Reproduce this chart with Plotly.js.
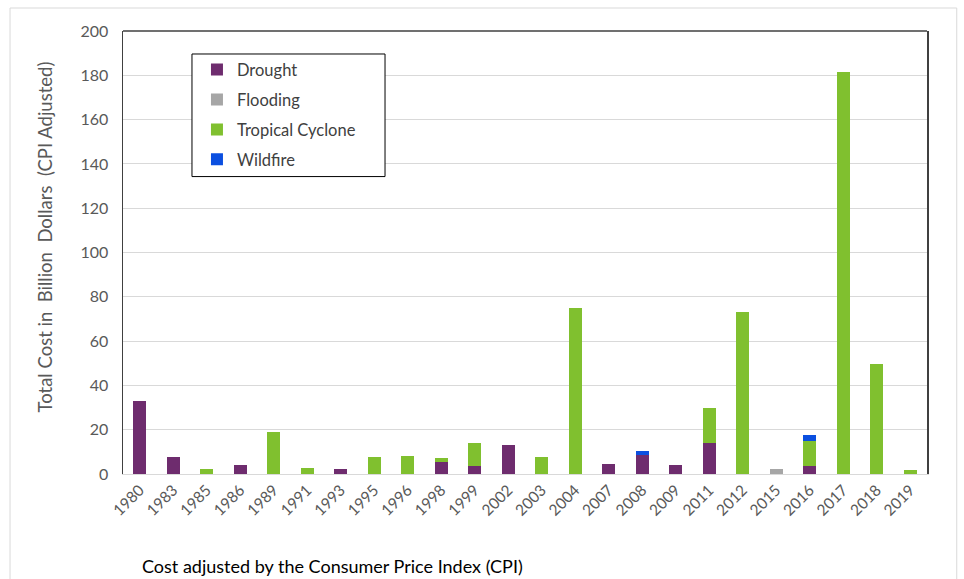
<!DOCTYPE html>
<html>
<head>
<meta charset="utf-8">
<script src="https://cdn.plot.ly/plotly-3.0.1.min.js"></script>
<style>html,body{margin:0;padding:0;background:#fff;}#chart{width:964px;height:579px;}</style>
</head>
<body>
<div id="chart"></div>
<script>
var years = ['1980','1983','1985','1986','1989','1991','1993','1995','1996','1998','1999','2002','2003','2004','2007','2008','2009','2011','2012','2015','2016','2017','2018','2019'];
var drought   = [33, 7.8, 0, 4.1, 0, 0, 2.3, 0, 0, 5.6, 3.8, 13, 0, 0, 4.4, 8.6, 4.1, 13.8, 0, 0, 3.7, 0, 0, 0];
var flooding  = [0, 0, 0, 0, 0, 0, 0, 0, 0, 0, 0, 0, 0, 0, 0, 0, 0, 0, 0, 2.3, 0, 0, 0, 0];
var cyclone   = [0, 0, 2.2, 0, 19, 2.9, 0, 7.9, 8.3, 1.5, 10.3, 0, 7.7, 75, 0, 0, 0, 15.9, 73.3, 0, 11.1, 181.5, 49.8, 1.6];
var wildfire  = [0, 0, 0, 0, 0, 0, 0, 0, 0, 0, 0, 0, 0, 0, 0, 1.6, 0, 0, 0, 0, 2.6, 0, 0, 0];
var yTicks = [0, 20, 40, 60, 80, 100, 120, 140, 160, 180, 200];

var FONT = 'Lato, "Open Sans", sans-serif';
function tr(name, vals, color, grp) {
  return {type: 'bar', name: name, x: years, y: vals, marker: {color: color, line: {width: 0}},
          legendgroup: grp, hoverinfo: 'x+y+name'};
}
var data = [
  tr('Drought', drought, '#6e2c6e', 'a'),
  tr('Flooding', flooding, '#a6a6a6', 'b'),
  tr('Tropical Cyclone', cyclone, '#80c02f', 'c'),
  tr('Wildfire', wildfire, '#0b4fe0', 'd')
];
var layout = {
  width: 964, height: 579,
  margin: {l: 123, r: 37, t: 31, b: 104.5},
  paper_bgcolor: '#fff', plot_bgcolor: '#fff',
  barmode: 'stack', bargap: 0.6,
  font: {family: FONT, color: '#595959'},
  showlegend: true,
  legend: {x: 0.092, y: 0.952, xanchor: 'left', yanchor: 'top', borderwidth: 0,
           bgcolor: 'rgba(0,0,0,0)', font: {size: 16.5, color: '#404040', family: FONT}, tracegroupgap: 5.5,
           traceorder: 'grouped'},
  xaxis: {type: 'category', tickangle: -45, tickfont: {size: 15.5, color: '#595959'},
          showline: true, linecolor: '#d9d9d9', linewidth: 1, showgrid: false, ticks: '', fixedrange: true},
  yaxis: {range: [0, 200], tickvals: yTicks, ticktext: yTicks.map(String), tickfont: {size: 16, color: '#595959'},
          showline: true, mirror: true, linecolor: '#404040', linewidth: 1.5,
          showgrid: true, gridcolor: '#d9d9d9', gridwidth: 1, zeroline: false,
          ticks: 'outside', ticklen: 10, tickcolor: 'rgba(0,0,0,0)',
          fixedrange: true},
  shapes: [
    {type: 'line', xref: 'paper', yref: 'paper', x0: 0, x1: 1, y0: 1, y1: 1, line: {color: '#404040', width: 1.5}},
    {type: 'rect', xref: 'paper', yref: 'paper', x0: -0.1405, x1: 1.037, y0: -0.4, y1: 1.0519,
     line: {color: '#d9d9d9', width: 1}, fillcolor: 'rgba(0,0,0,0)', layer: 'below'},
    {type: 'rect', xref: 'paper', yref: 'paper', x0: 0.0858, x1: 0.3259, y0: 0.6714, y1: 0.9481,
     line: {color: '#000', width: 1}, fillcolor: '#fff', layer: 'above'}
  ],
  annotations: [
    {xref: 'paper', yref: 'paper', x: 0.021, y: -0.2086, xanchor: 'left', yanchor: 'middle', showarrow: false,
     text: 'Cost adjusted by the Consumer Price Index (CPI)', font: {size: 18, color: '#000', family: FONT}},
    {xref: 'paper', yref: 'paper', x: -0.097, y: 0.534, xanchor: 'center', yanchor: 'middle', showarrow: false,
     textangle: -90, text: 'Total Cost in  Billion  Dollars  (CPI Adjusted)', font: {size: 18.5, color: '#595959', family: FONT}}
  ]
};
Plotly.newPlot('chart', data, layout, {displayModeBar: false, staticPlot: true});
</script>
</body>
</html>
